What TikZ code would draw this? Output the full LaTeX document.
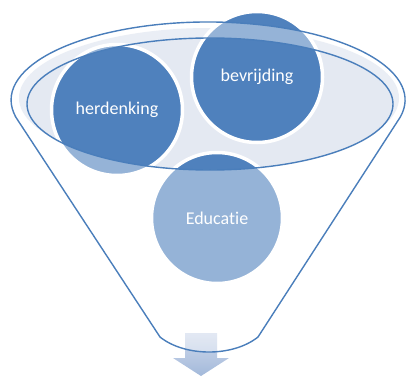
\documentclass[tikz,border=0pt]{standalone}
\usepackage{fontspec}
\setmainfont[RawFeature={-liga;-clig;-calt;-rlig}]{Carlito}
\definecolor{dblue}{HTML}{4F81BD}
\definecolor{oline}{HTML}{4A7EBB}
\definecolor{ifill}{HTML}{E4E9F2}
\definecolor{band}{HTML}{DCE3EF}
\definecolor{arrtop}{HTML}{D0DAEC}
\definecolor{arrbot}{HTML}{A3B9DA}
\tikzset{
  circ/.style={circle, minimum size=131pt, inner sep=0pt, fill=dblue, draw=white, line width=3.5pt,
    text=white, font=\fontsize{18}{20}\selectfont},
  outl/.style={draw=oline, line width=1.4pt},
}
\begin{document}
\begin{tikzpicture}[x=1pt,y=1pt]
\useasboundingbox (0,0) rectangle (406,376);
\def\funnel{(15.7,259) -- (160,39) .. controls (185,19) and (233,19) .. (258,39) -- (400.3,259) arc[start angle=-12.6, end angle=192.6, x radius=197, y radius=78] -- cycle}
% funnel back
\fill[white] \funnel;
\fill[band] (209,278) ellipse[x radius=190, y radius=70];
\fill[ifill] (210,272) ellipse[x radius=183, y radius=66];
% arrow
\path[top color=arrtop, bottom color=arrbot] (185,43) -- (217,43) -- (217,18) -- (229,18) -- (201,0) -- (173,18) -- (185,18) -- cycle;
% circles
\node[circ] (h) at (117,266) {herdenking};
\node[circ] (b) at (257,299) {bevrijding};
\node[circ] (e) at (217,158) {Educatie};
% front overlay
\fill[white, fill opacity=0.4, even odd rule] \funnel (210,272) ellipse[x radius=183, y radius=66];
% outlines
\draw[outl] \funnel;
\draw[outl] (210,272) ellipse[x radius=183, y radius=66];
\end{tikzpicture}
\end{document}
